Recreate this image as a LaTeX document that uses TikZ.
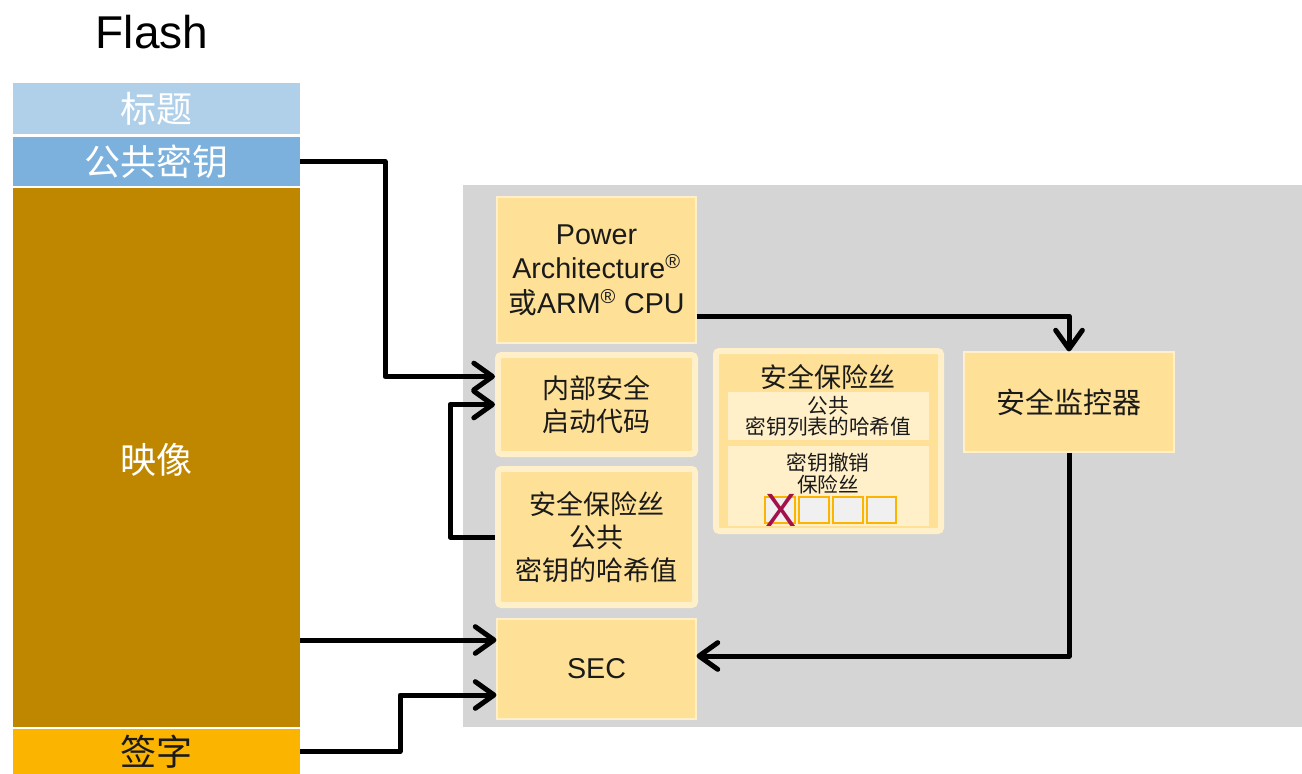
\documentclass[tikz,border=0pt]{standalone}
\usepackage{fontspec}
\setmainfont{Liberation Sans}
\newfontfamily\cjk{Noto Sans CJK SC}
\usetikzlibrary{arrows.meta,fit,calc}

\definecolor{titleblue}{HTML}{B0D0EA}
\definecolor{keyblue}{HTML}{7BB1DC}
\definecolor{imagegold}{HTML}{BF8700}
\definecolor{signorange}{HTML}{FBB400}
\definecolor{panelgray}{HTML}{D5D5D5}
\definecolor{boxgold}{HTML}{FEE096}
\definecolor{palegold}{HTML}{FFF0C9}
\definecolor{fusegray}{HTML}{F0F0F0}
\definecolor{crossred}{HTML}{A3104A}
\definecolor{textdark}{HTML}{1A1A1A}

\begin{document}
\begin{tikzpicture}[x=0.75pt,y=-0.75pt,
  bar/.style={inner sep=0pt, outer sep=0pt},
  bartext/.style={text=white, inner sep=0pt, font=\cjk\fontsize{27}{30}\selectfont},
  gbox/.style={fill=boxgold, draw=palegold, line width=0.8pt, inner sep=0pt},
  framed/.style={gbox, line width=4.5pt, rounded corners=2.5pt},
  cjkbig/.style={font=\cjk\fontsize{20.25}{24.75}\selectfont, text=textdark, align=center, inner sep=0pt},
  cjksmall/.style={font=\cjk\fontsize{15.5}{16}\selectfont, text=textdark, align=center, inner sep=0pt},
  latin/.style={font=\fontsize{21.5}{26}\selectfont, text=textdark, align=center, inner sep=0pt},
  fusebit/.style={fill=fusegray, draw=signorange, line width=1.5pt, inner sep=0pt},
  arr/.style={line width=3.75pt, line join=round,
    -{Straight Barb[round,length=14pt,width=20pt]}}]

\useasboundingbox (0,0) rectangle (1302,774);

% heading
\node[font=\fontsize{34.5}{40}\selectfont] (flashlbl) at (152,32) {Flash};

% flash memory layout
\node[bar, fill=titleblue, fit={(13,83)(300,134)}] (title) {};
\node[bar, fill=keyblue, fit={(13,137)(300,186)}] (pubkey) {};
\node[bar, fill=imagegold, fit={(13,188)(300,727)}] (image) {};
\node[bar, fill=signorange, fit={(13,729)(300,774)}] (sign) {};
\node[bartext] (titletxt) at (156,109) {标题};
\node[bartext] (pubkeytxt) at (156,162) {公共密钥};
\node[bartext] (imagetxt) at (156,460) {映像};
\node[bartext, text=textdark] (signtxt) at (156,752) {签字};

% SoC panel
\node[fill=panelgray, inner sep=0pt, fit={(463,185)(1302,727)}] (panel) {};

\node[gbox, fit={(497,197)(696,343)}] (cpu) {};
\node[latin] (cputxt) at (cpu.center)
  {Power\\Architecture\textsuperscript{®}\\{\cjk 或}ARM\textsuperscript{®} CPU};
\node[framed, fit={(498,355)(695,454)}] (boot) {};
\node[cjkbig] (boottxt) at (boot.center) {内部安全\\启动代码};
\node[framed, fit={(498,469)(695,605)}] (hash) {};
\node[cjkbig] (hashtxt) at (hash.center) {安全保险丝\\公共\\密钥的哈希值};
\node[gbox, fit={(497,619)(696,719)}] (sec) {};
\node[latin] (sectxt) at (sec.center) {SEC};
\node[gbox, fit={(964,352)(1174,452)}] (monitor) {};
\node[cjkbig, font=\cjk\fontsize{21.75}{26}\selectfont] (monitortxt) at (monitor.center) {安全监控器};

% fuse block
\node[framed, fit={(716,351)(941,531)}] (fuse) {};
\node[cjkbig] (fusetitle) at (828,377) {安全保险丝};
\node[fill=palegold, inner sep=0pt, fit={(728,392)(929,440)}] (keyhash) {};
\node[cjksmall] (keyhashtxt) at (keyhash.center) {公共\\密钥列表的哈希值};
\node[fill=palegold, inner sep=0pt, fit={(728,446)(929,526)}] (revoke) {};
\node[cjksmall] (revoketxt) at (828,473.5) {密钥撤销\\保险丝};
\node[fusebit, fit={(765,497)(795,523)}] (fb1) {};
\node[fusebit, fit={(799,497)(829,523)}] (fb2) {};
\node[fusebit, fit={(833,497)(863,523)}] (fb3) {};
\node[fusebit, fit={(867,497)(896,523)}] (fb4) {};
\node[text=crossred, font=\fontsize{35}{40}\selectfont, inner sep=0pt] (cross) at (781,510) {X};

% connections
\draw[arr] (pubkey.east) -| ($(boot.west)+(-110,-28)$) -- ($(boot.west)+(0,-28)$);
\draw[arr] (hash.west) -- ++(-45,0) |- (boot.west);
\draw[arr] ($(cpu.east)+(0,46)$) -| (monitor.north);
\draw[arr] (monitor.south) |- ($(sec.east)+(0,-13)$);
\coordinate (secin) at ($(sec.west)+(0,-29)$);
\draw[arr] (image.east |- secin) -- (secin);
\draw[arr] (sign.east) -- ++(100,0) |- ($(sec.west)+(0,26)$);
\end{tikzpicture}
\end{document}
